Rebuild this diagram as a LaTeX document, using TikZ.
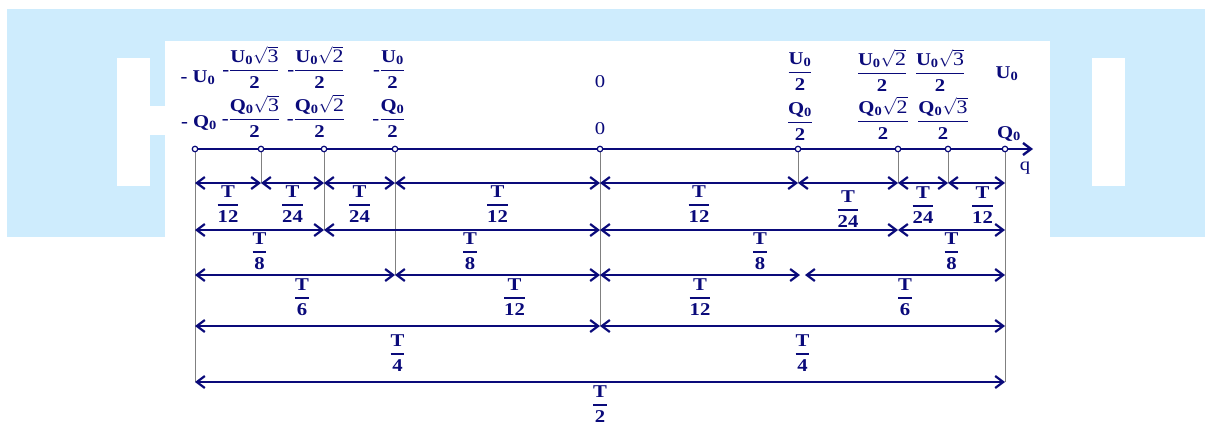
\documentclass[tikz,border=0pt]{standalone}
\usepackage{fontspec}
\setmainfont{Liberation Serif}[FakeStretch=1.15]
\usepackage{amsmath}
\usetikzlibrary{arrows.meta}
\definecolor{inkblue}{RGB}{10,10,122}
\definecolor{bgblue}{RGB}{206,236,253}
\newcommand{\Uo}{U\textsubscript{0}}
\newcommand{\Qo}{Q\textsubscript{0}}
\newcommand{\rt}[1]{\ensuremath{\sqrt{\textnormal{\fontsize{19}{19}\selectfont #1}}}}
\newcommand{\frc}[2]{\ensuremath{\genfrac{}{}{1.6pt}{0}{\text{#1}}{\text{#2}}}}
\begin{document}
\begin{tikzpicture}[x=1pt,y=-1pt,
  >={Straight Barb[length=8pt,width=12pt]},
  dim/.style={<->,draw=inkblue,line width=2.2pt},
  ext/.style={draw=gray,line width=0.7pt},
  txt/.style={text=inkblue,font=\fontsize{18}{21}\selectfont\bfseries,inner sep=0pt,anchor=base},
  lab/.style={text=inkblue,font=\fontsize{18}{21}\selectfont\bfseries,inner sep=0pt,midway,below=#1},
  lab/.default=2pt,
  dot/.style={circle,draw=inkblue,fill=white,line width=1.2pt,inner sep=0pt,minimum size=5.5pt}]
	\useasboundingbox (0,0) rectangle (1205,424);
	% background
	\fill[bgblue] (7,9) rectangle (1205,237);
	\fill[white] (165,41) rectangle (1050,424);
	\fill[white] (117,58) rectangle (150,186);
	\fill[white] (150,106) rectangle (165,135);
	\fill[white] (1092,58) rectangle (1125,186);
	% points on the q axis
	\coordinate (m1) at (195,149);
	\coordinate (m2) at (261,149);
	\coordinate (m3) at (324,149);
	\coordinate (m4) at (395,149);
	\coordinate (m5) at (600,149);
	\coordinate (m6) at (798,149);
	\coordinate (m7) at (898,149);
	\coordinate (m8) at (948,149);
	\coordinate (m9) at (1005,149);
	\coordinate (qend) at (1033,149);
	% rows of the time spans
	\coordinate (r1) at (0,183);
	\coordinate (r2) at (0,230);
	\coordinate (r3) at (0,275);
	\coordinate (r4) at (0,326);
	\coordinate (r5) at (0,382);
	\coordinate (h1) at (800,275);
	\coordinate (h2) at (805,275);
	\draw[->,draw=inkblue,line width=2.4pt] (m1) -- (qend);
	\draw[ext] (m1) -- (m1|-r5);
	\draw[ext] (m2) -- (m2|-r1);
	\draw[ext] (m3) -- (m3|-r2);
	\draw[ext] (m4) -- (m4|-r3);
	\draw[ext] (m5) -- (m5|-r4);
	\draw[ext] (m6) -- (m6|-r1);
	\draw[ext] (m7) -- (m7|-r1);
	\draw[ext] (m8) -- (m8|-r1);
	\draw[ext] (m9) -- (m9|-r5);
	\foreach \i in {1,...,9}
		\node[dot] (d\i) at (m\i) {};
	% values of u and q
	\node[txt] (u1) at (198,82) {- \Uo};
	\node[txt] (u2) at (251,75) {-\frc{\Uo\rt{3}}{2}};
	\node[txt] (u3) at (316,75) {-\frc{\Uo\rt{2}}{2}};
	\node[txt] (u4) at (389,75) {-\frc{\Uo}{2}};
	\node[txt,font=\fontsize{18}{21}\selectfont] (u5) at (600,87) {0};
	\node[txt] (u6) at (800,77) {\frc{\Uo}{2}};
	\node[txt] (u7) at (882,78) {\frc{\Uo\rt{2}}{2}};
	\node[txt] (u8) at (940,78) {\frc{\Uo\rt{3}}{2}};
	\node[txt] (u9) at (1007,78) {\Uo};
	\node[txt] (v1) at (199,127) {- \Qo};
	\node[txt] (v2) at (251,124) {-\frc{\Qo\rt{3}}{2}};
	\node[txt] (v3) at (316,124) {-\frc{\Qo\rt{2}}{2}};
	\node[txt] (v4) at (389,124) {-\frc{\Qo}{2}};
	\node[txt,font=\fontsize{18}{21}\selectfont] (v5) at (600,134) {0};
	\node[txt] (v6) at (800,127) {\frc{\Qo}{2}};
	\node[txt] (v7) at (883,126) {\frc{\Qo\rt{2}}{2}};
	\node[txt] (v8) at (943,126) {\frc{\Qo\rt{3}}{2}};
	\node[txt] (v9) at (1009,138) {\Qo};
	\node[txt,font=\fontsize{18}{21}\selectfont] (ql) at (1025,170) {q};
	% time spans
	\draw[dim] (m1|-r1) -- (m2|-r1) node[lab] (t11) {\frc{T}{12}};
	\draw[dim] (m2|-r1) -- (m3|-r1) node[lab] (t12) {\frc{T}{24}};
	\draw[dim] (m3|-r1) -- (m4|-r1) node[lab] (t13) {\frc{T}{24}};
	\draw[dim] (m4|-r1) -- (m5|-r1) node[lab] (t14) {\frc{T}{12}};
	\draw[dim] (m5|-r1) -- (m6|-r1) node[lab] (t15) {\frc{T}{12}};
	\draw[dim] (m6|-r1) -- (m7|-r1) node[lab=7pt] (t16) {\frc{T}{24}};
	\draw[dim] (m7|-r1) -- (m8|-r1) node[lab=3pt] (t17) {\frc{T}{24}};
	\draw[dim] (m8|-r1) -- (m9|-r1) node[lab=3pt,xshift=6pt] (t18) {\frc{T}{12}};
	\draw[dim] (m1|-r2) -- (m3|-r2) node[lab] (t21) {\frc{T}{8}};
	\draw[dim] (m3|-r2) -- (m5|-r2) node[lab,xshift=8pt] (t22) {\frc{T}{8}};
	\draw[dim] (m5|-r2) -- (m7|-r2) node[lab,xshift=11pt] (t23) {\frc{T}{8}};
	\draw[dim] (m7|-r2) -- (m9|-r2) node[lab] (t24) {\frc{T}{8}};
	\draw[dim] (m1|-r3) -- (m4|-r3) node[lab=2.5pt,xshift=7pt] (t31) {\frc{T}{6}};
	\draw[dim] (m4|-r3) -- (m5|-r3) node[lab=2.5pt,xshift=17pt] (t32) {\frc{T}{12}};
	\draw[dim] (m5|-r3) -- (h1) node[lab=2.5pt] (t33) {\frc{T}{12}};
	\draw[dim] (h2) -- (m9|-r3) node[lab=2.5pt] (t34) {\frc{T}{6}};
	\draw[dim] (m1|-r4) -- (m5|-r4) node[lab=7.5pt] (t41) {\frc{T}{4}};
	\draw[dim] (m5|-r4) -- (m9|-r4) node[lab=7.5pt] (t42) {\frc{T}{4}};
	\draw[dim] (m1|-r5) -- (m9|-r5) node[lab=2.5pt] (t51) {\frc{T}{2}};
\end{tikzpicture}
\end{document}
